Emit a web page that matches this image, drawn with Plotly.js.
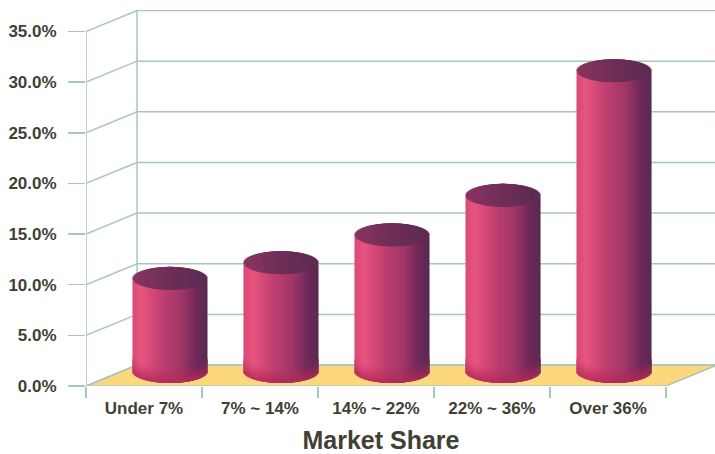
<!DOCTYPE html>
<html><head><meta charset="utf-8">
<script src="https://cdn.plot.ly/plotly-3.0.1.min.js"></script>
<style>html,body{margin:0;padding:0;background:#fff}#c{width:715px;height:454px}</style>
</head><body><div id="c"></div>
<script>
const categories = ["Under 7%", "7% ~ 14%", "14% ~ 22%", "22% ~ 36%", "Over 36%"];
const shareValues = [9.2, 10.75, 13.5, 17.4, 29.7];
const yTicks = [0, 5, 10, 15, 20, 25, 30, 35];
const yLabels = ["0.0%", "5.0%", "10.0%", "15.0%", "20.0%", "25.0%", "30.0%", "35.0%"];

// 3D look, in axis units
const depthX = 0.44, depthY = 2.07;
const barStart = 0.224, barStep = 0.957, barWidth = 0.647;
const baseLift = 1.43, ellipseY = 1.134;
const sliceCount = 74;
const gridColor = "#a9c6bd", textColor = "#3f4135";

function hex(c){return [1,3,5].map(i=>parseInt(c.substr(i,2),16));}
function ramp(stops,t){
  for(let i=1;i<stops.length;i++){
    if(t<=stops[i][0]){
      const a=stops[i-1],b=stops[i],f=(t-a[0])/(b[0]-a[0]),ca=hex(a[1]),cb=hex(b[1]);
      return ca.map((v,k)=>v+(cb[k]-v)*f);
    }
  }
  return hex(stops[stops.length-1][1]);
}
const rgb=c=>`rgb(${c.map(Math.round).join(",")})`;
const mix=(c,d,f)=>c.map((v,k)=>v+(d[k]-v)*f);
const bodyStops=[[-1,"#d84a78"],[-0.75,"#e85480"],[-0.2,"#c03f6f"],[0.3,"#a03768"],[0.7,"#70295a"],[1,"#592a50"]];
const capStops=[[-1,"#8a3560"],[0,"#6f2e58"],[1,"#5a2c52"]];
const crimson=hex("#b22a58");

const newSet=()=>({x:[],y:[],base:[],color:[],offset:[]});
const slice=newSet(), cap=newSet(), foot=newSet();
const w=barWidth/sliceCount, wide=3*w;
// slices are painted from both edges inward, each overlapping the next, so no background leaks between them
const order=[];
for(let s=0;s<sliceCount/2;s++){order.push(s);}
for(let s=sliceCount-1;s>=sliceCount/2;s--){order.push(s);}
const add=(set,x,base,h,col,off)=>{set.x.push(x);set.base.push(base);set.y.push(h);set.color.push(rgb(col));set.offset.push(off);};
const footBands=10;
shareValues.forEach((v,i)=>{
  const cx=barStart+i*barStep;
  order.forEach(s=>{
    const t=(s+0.5)/sliceCount*2-1;
    const x=cx+t*barWidth/2, arc=ellipseY*Math.sqrt(1-t*t);
    const off=t<0?-w/2:w/2-wide;
    const low=baseLift-arc, high=baseLift+v-arc;
    const col=ramp(bodyStops,t);
    add(slice,x,low,high-low,col,off);
    add(cap,x,high,2*arc,ramp(capStops,t),off);
    for(let k=0;k<footBands;k++){
      add(foot,x,low+k*0.14,0.2,mix(col,crimson,0.8*(1-k/footBands)),off);
    }
  });
});
const mkBar=(d)=>({type:"bar",x:d.x,y:d.y,base:d.base,width:wide,offset:d.offset,
  marker:{color:d.color,opacity:1,line:{width:0}},hoverinfo:"skip",showlegend:false,xaxis:"x3",yaxis:"y"});

const L=-0.5,R=4.5;
const common={type:"scatter",mode:"lines",xaxis:"x2",yaxis:"y",hoverinfo:"skip",showlegend:false};
const floor={...common,x:[L,L+depthX,R+depthX,R,L],y:[0,depthY,depthY,0,0],
  fill:"toself",fillcolor:"#fdd77c",line:{color:gridColor,width:1.5}};
const gx=[],gy=[];
yTicks.forEach(t=>{gx.push(L,L+depthX,R+depthX,null);gy.push(t,t+depthY,t+depthY,null);});
gx.push(L+depthX,L+depthX,null,L,L);gy.push(depthY,35+depthY,null,0,35);
const grid={...common,x:gx,y:gy,line:{color:gridColor,width:1.5}};
const labelHelper={type:"scatter",mode:"lines",x:[0],y:[0],xaxis:"x",yaxis:"y",hoverinfo:"skip",showlegend:false};

const plotW=629, labelW=590;
const wideRange=[L,L+plotW/116];
const font={family:"'Liberation Sans',Arial,sans-serif",size:17,color:textColor,weight:700};
const layout={
  width:715,height:454,paper_bgcolor:"#fff",plot_bgcolor:"rgba(0,0,0,0)",
  margin:{l:86,r:0,t:10,b:67.5,pad:0},barmode:"group",showlegend:false,
  xaxis:{domain:[0,labelW/plotW],range:[L,L+labelW/116],tickmode:"array",tickvals:categories.map((c,i)=>i),ticktext:categories,ticks:"",showgrid:false,zeroline:false,
    showline:false,tickfont:font,ticklabelstandoff:10,anchor:"y",
    title:{text:"Market Share",font:{family:font.family,size:25,color:textColor,weight:700},standoff:15}},
  xaxis2:{domain:[0,1],anchor:"y",range:wideRange,tickmode:"array",tickvals:[-0.5,0.5,1.5,2.5,3.5,4.5],ticktext:["","","","","",""],
    ticks:"outside",ticklen:11,tickwidth:1.5,tickcolor:gridColor,showgrid:false,zeroline:false,showline:false},
  xaxis3:{overlaying:"x2",anchor:"y",range:wideRange,showticklabels:false,ticks:"",showgrid:false,zeroline:false,showline:false},
  yaxis:{range:[0,376.5/10.143],tickmode:"array",tickvals:yTicks,ticktext:yLabels,ticks:"outside",ticklen:17,tickwidth:1.5,tickcolor:gridColor,
    showline:false,showgrid:false,zeroline:false,tickfont:font,ticklabelstandoff:8,anchor:"x"}
};
Plotly.newPlot("c",[labelHelper,floor,grid,mkBar(slice),mkBar(foot),mkBar(cap)],layout,{displayModeBar:false,staticPlot:true});
</script></body></html>
